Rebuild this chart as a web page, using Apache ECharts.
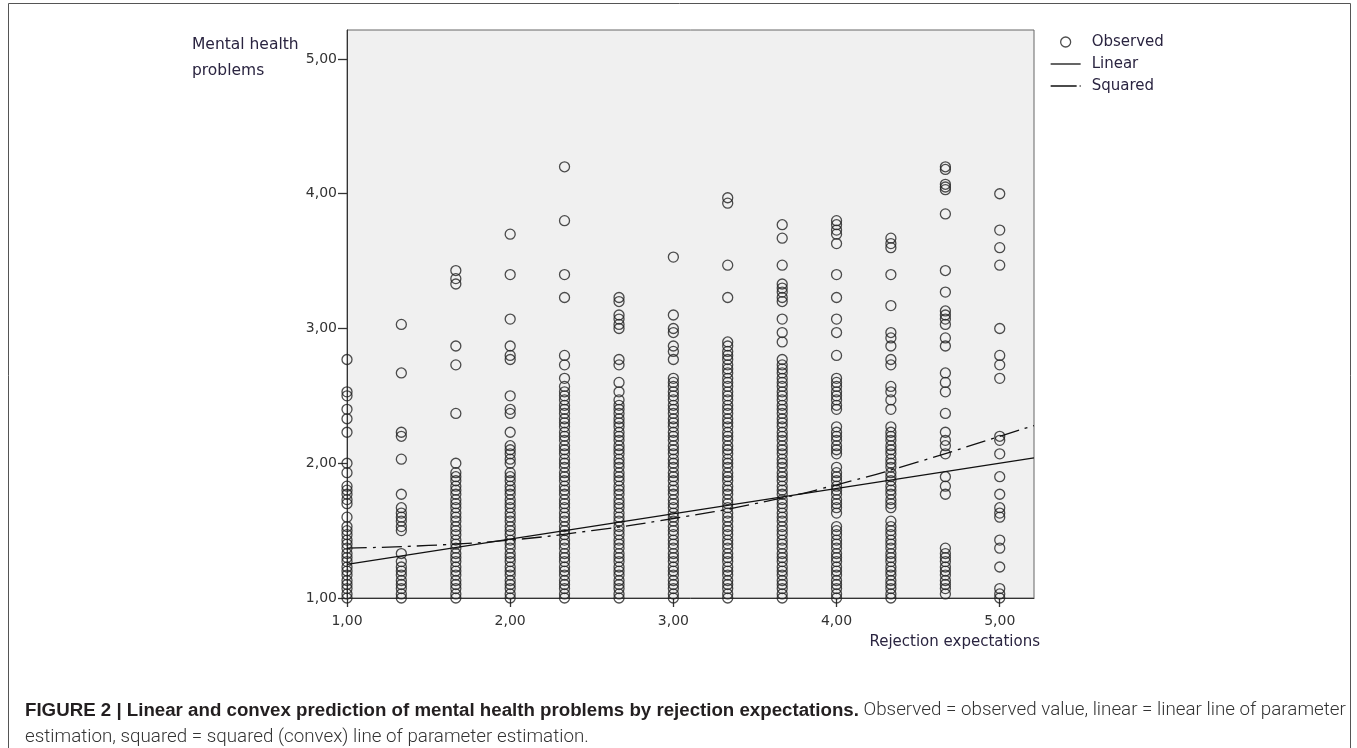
<!DOCTYPE html>
<html>
<head>
<meta charset="utf-8">
<script src="https://cdn.jsdelivr.net/npm/echarts@6/dist/echarts.min.js"></script>
<style>
html,body{margin:0;padding:0;background:#fff;}
#chart{width:1357px;height:748px;}
</style>
</head>
<body>
<div id="chart"></div>
<script>
// Column positions (Rejection expectations)
const xColumns = [1.00, 1.333, 1.667, 2.00, 2.333, 2.667, 3.00, 3.333, 3.667, 4.00, 4.333, 4.667, 5.00];
// Tick labels
const xTicks = [1, 2, 3, 4, 5];
const yTicks = [1, 2, 3, 4, 5];

// Observed values per column (Mental health problems)
const obs100 = [2.77, 2.53, 2.50, 2.40, 2.33, 2.23, 2.00, 1.93, 1.83, 1.80, 1.77, 1.73, 1.70, 1.60, 1.53, 1.50, 1.47, 1.43, 1.40, 1.37, 1.33, 1.30, 1.27, 1.23, 1.20, 1.17, 1.13, 1.10, 1.07, 1.03, 1.00];
const obs133 = [3.03, 2.67, 2.23, 2.20, 2.03, 1.77, 1.67, 1.63, 1.60, 1.57, 1.53, 1.50, 1.33, 1.27, 1.23, 1.20, 1.17, 1.13, 1.10, 1.07, 1.03, 1.00];
const obs167 = [3.43, 3.37, 3.33, 2.87, 2.73, 2.37, 2.00, 1.93, 1.90, 1.87, 1.83, 1.80, 1.77, 1.73, 1.70, 1.67, 1.63, 1.60, 1.57, 1.53, 1.50, 1.47, 1.43, 1.40, 1.37, 1.33, 1.30, 1.27, 1.23, 1.20, 1.17, 1.13, 1.10, 1.07, 1.03, 1.00];
const obs200 = [3.70, 3.40, 3.07, 2.87, 2.80, 2.77, 2.50, 2.40, 2.37, 2.23, 2.13, 2.10, 2.07, 2.03, 2.00, 1.93, 1.90, 1.87, 1.83, 1.80, 1.77, 1.73, 1.70, 1.67, 1.63, 1.60, 1.57, 1.53, 1.50, 1.47, 1.43, 1.40, 1.37, 1.33, 1.30, 1.27, 1.23, 1.20, 1.17, 1.13, 1.10, 1.07, 1.03, 1.00];
const obs233 = [4.20, 3.80, 3.40, 3.23, 2.80, 2.73, 2.63, 2.57, 2.53, 2.50, 2.47, 2.43, 2.40, 2.37, 2.33, 2.30, 2.27, 2.23, 2.20, 2.17, 2.13, 2.10, 2.07, 2.03, 2.00, 1.97, 1.93, 1.90, 1.87, 1.83, 1.80, 1.77, 1.73, 1.70, 1.67, 1.63, 1.60, 1.57, 1.53, 1.50, 1.47, 1.43, 1.40, 1.37, 1.33, 1.30, 1.27, 1.23, 1.20, 1.17, 1.13, 1.10, 1.07, 1.03, 1.00];
const obs267 = [3.23, 3.20, 3.10, 3.07, 3.03, 3.00, 2.77, 2.73, 2.60, 2.53, 2.47, 2.43, 2.40, 2.37, 2.33, 2.30, 2.27, 2.23, 2.20, 2.17, 2.13, 2.10, 2.07, 2.03, 2.00, 1.97, 1.93, 1.90, 1.87, 1.83, 1.80, 1.77, 1.73, 1.70, 1.67, 1.63, 1.60, 1.57, 1.53, 1.50, 1.47, 1.43, 1.40, 1.37, 1.33, 1.30, 1.27, 1.23, 1.20, 1.17, 1.13, 1.10, 1.07, 1.03, 1.00];
const obs300 = [3.53, 3.10, 3.00, 2.97, 2.87, 2.83, 2.77, 2.63, 2.60, 2.57, 2.53, 2.50, 2.47, 2.43, 2.40, 2.37, 2.33, 2.30, 2.27, 2.23, 2.20, 2.17, 2.13, 2.10, 2.07, 2.03, 2.00, 1.97, 1.93, 1.90, 1.87, 1.83, 1.80, 1.77, 1.73, 1.70, 1.67, 1.63, 1.60, 1.57, 1.53, 1.50, 1.47, 1.43, 1.40, 1.37, 1.33, 1.30, 1.27, 1.23, 1.20, 1.17, 1.13, 1.10, 1.07, 1.03, 1.00];
const obs333 = [3.97, 3.93, 3.47, 3.23, 2.90, 2.87, 2.83, 2.80, 2.77, 2.73, 2.70, 2.67, 2.63, 2.60, 2.57, 2.53, 2.50, 2.47, 2.43, 2.40, 2.37, 2.33, 2.30, 2.27, 2.23, 2.20, 2.17, 2.13, 2.10, 2.07, 2.03, 2.00, 1.97, 1.93, 1.90, 1.87, 1.83, 1.80, 1.77, 1.73, 1.70, 1.67, 1.63, 1.60, 1.57, 1.53, 1.50, 1.47, 1.43, 1.40, 1.37, 1.33, 1.30, 1.27, 1.23, 1.20, 1.17, 1.13, 1.10, 1.07, 1.03, 1.00];
const obs367 = [3.77, 3.67, 3.47, 3.33, 3.30, 3.27, 3.23, 3.20, 3.07, 2.97, 2.90, 2.77, 2.73, 2.70, 2.67, 2.63, 2.60, 2.57, 2.53, 2.50, 2.47, 2.43, 2.40, 2.37, 2.33, 2.30, 2.27, 2.23, 2.20, 2.17, 2.13, 2.10, 2.07, 2.03, 2.00, 1.97, 1.93, 1.90, 1.87, 1.83, 1.80, 1.77, 1.73, 1.70, 1.67, 1.63, 1.60, 1.57, 1.53, 1.50, 1.47, 1.43, 1.40, 1.37, 1.33, 1.30, 1.27, 1.23, 1.20, 1.17, 1.13, 1.10, 1.07, 1.03, 1.00];
const obs400 = [3.80, 3.77, 3.73, 3.70, 3.63, 3.40, 3.23, 3.07, 2.97, 2.80, 2.63, 2.60, 2.57, 2.53, 2.50, 2.47, 2.43, 2.40, 2.27, 2.23, 2.20, 2.17, 2.13, 2.10, 2.07, 1.97, 1.93, 1.90, 1.87, 1.83, 1.80, 1.77, 1.73, 1.70, 1.67, 1.63, 1.53, 1.50, 1.47, 1.43, 1.40, 1.37, 1.33, 1.30, 1.27, 1.23, 1.20, 1.17, 1.13, 1.10, 1.07, 1.03, 1.00];
const obs433 = [3.67, 3.63, 3.60, 3.40, 3.17, 2.97, 2.93, 2.87, 2.77, 2.73, 2.57, 2.53, 2.47, 2.40, 2.27, 2.23, 2.20, 2.17, 2.13, 2.10, 2.07, 2.03, 2.00, 1.97, 1.93, 1.90, 1.87, 1.83, 1.80, 1.77, 1.73, 1.70, 1.67, 1.57, 1.53, 1.50, 1.47, 1.43, 1.40, 1.37, 1.33, 1.30, 1.27, 1.23, 1.20, 1.17, 1.13, 1.10, 1.07, 1.03, 1.00];
const obs467 = [4.20, 4.18, 4.07, 4.05, 4.03, 3.85, 3.43, 3.27, 3.13, 3.10, 3.07, 3.03, 2.93, 2.87, 2.67, 2.60, 2.53, 2.37, 2.23, 2.17, 2.13, 2.07, 1.90, 1.83, 1.77, 1.37, 1.33, 1.30, 1.27, 1.23, 1.20, 1.17, 1.13, 1.10, 1.07, 1.03];
const obs500 = [4.00, 3.73, 3.60, 3.47, 3.00, 2.80, 2.73, 2.63, 2.20, 2.17, 2.07, 1.90, 1.77, 1.67, 1.63, 1.60, 1.43, 1.37, 1.23, 1.07, 1.03, 1.00];

// Fitted lines
const linearX = [1.00, 5.21];
const linearY = [1.25, 2.04];
const squaredX = [1.00, 1.50, 2.00, 2.50, 3.00, 3.50, 4.00, 4.50, 5.00, 5.21];
const squaredY = [1.37, 1.39, 1.43, 1.50, 1.59, 1.70, 1.84, 2.01, 2.20, 2.28];

const observedColumns = [obs100, obs133, obs167, obs200, obs233, obs267, obs300, obs333, obs367, obs400, obs433, obs467, obs500];
const scatterData = [];
observedColumns.forEach((col, i) => col.forEach(v => scatterData.push([xColumns[i], v])));

const FONT = 'DejaVu Sans';
const fmt = v => Number(v).toFixed(2).replace('.', ',');

const chart = echarts.init(document.getElementById('chart'), null, {renderer: 'canvas'});
chart.setOption({
  backgroundColor: '#ffffff',
  animation: false,
  title: [
    {
      text: 'Mental health\nproblems',
      left: 187, top: 27,
      textStyle: {fontFamily: FONT, fontSize: 15.5, fontWeight: 'normal', color: '#2a2440', lineHeight: 26}
    },
    {
      text: '{b|FIGURE 2 | Linear and convex prediction of mental health problems by rejection expectations.}{n| Observed = observed value, linear = linear line of parameter}\n{n|estimation, squared = squared (convex) line of parameter estimation.}',
      left: 20, top: 692,
      textStyle: {
        rich: {
          b: {fontFamily: 'Liberation Sans', fontSize: 18.7, fontWeight: 'bold', color: '#231f20', lineHeight: 27},
          n: {fontFamily: 'Roboto', fontSize: 18.8, fontWeight: 300, color: '#333', lineHeight: 27}
        }
      }
    }
  ],
  legend: {
    orient: 'vertical',
    left: 1045, top: 29,
    itemWidth: 30, itemHeight: 10, itemGap: 6,
    textStyle: {fontFamily: FONT, fontSize: 15, color: '#2a2440', lineHeight: 16, padding: [0, 0, 0, 6]},
    data: [
      {name: 'Observed', icon: 'circle', itemStyle: {color: 'rgba(0,0,0,0)', borderColor: '#222', borderWidth: 1.3}},
      {name: 'Linear', itemStyle: {opacity: 0}, lineStyle: {color: '#111', width: 1.3, type: 'solid'}},
      {name: 'Squared', itemStyle: {opacity: 0}, lineStyle: {color: '#111', width: 1.3, type: [26, 3, 1, 3]}}
    ]
  },
  grid: {
    left: 347, top: 30, width: 687, height: 568,
    show: true, backgroundColor: '#f0f0f0', borderColor: '#666', borderWidth: 1,
    containLabel: false
  },
  xAxis: {
    type: 'value', min: 1, max: 5.21,
    name: 'Rejection expectations', nameLocation: 'end', nameGap: 6,
    nameTextStyle: {fontFamily: FONT, fontSize: 15, color: '#2a2440', align: 'right', verticalAlign: 'top', padding: [37, 0, 0, 0]},
    splitLine: {show: false},
    axisLine: {show: true, onZero: false, lineStyle: {color: '#333', width: 1}},
    axisTick: {show: true, length: 9, customValues: xTicks, lineStyle: {color: '#333', width: 1.3}},
    axisLabel: {customValues: xTicks, formatter: fmt, fontFamily: FONT, fontSize: 14, color: '#333', margin: 16}
  },
  yAxis: {
    type: 'value', min: 1, max: 5.215,
    splitLine: {show: false},
    axisLine: {show: true, onZero: false, lineStyle: {color: '#333', width: 1}},
    axisTick: {show: true, length: 9, customValues: yTicks, lineStyle: {color: '#333', width: 1.3}},
    axisLabel: {customValues: yTicks, formatter: fmt, fontFamily: FONT, fontSize: 14, color: '#333', margin: 10}
  },
  series: [
    {
      name: 'Observed', type: 'scatter', data: scatterData, clip: false,
      symbol: 'circle', symbolSize: 10,
      itemStyle: {color: 'rgba(0,0,0,0)', borderColor: '#222', borderWidth: 1.3},
      emphasis: {disabled: true}, z: 2
    },
    {
      name: 'Linear', type: 'line', data: linearX.map((x, i) => [x, linearY[i]]),
      symbol: 'none', clip: false,
      itemStyle: {color: '#111'},
      lineStyle: {color: '#111', width: 1.3, type: 'solid'}, z: 3
    },
    {
      name: 'Squared', type: 'line', data: squaredX.map((x, i) => [x, squaredY[i]]),
      symbol: 'none', smooth: true, clip: false,
      itemStyle: {color: '#111'},
      lineStyle: {color: '#111', width: 1.3, type: [20, 6, 3, 6]}, z: 3
    }
  ],
  graphic: [
    {type: 'polyline', shape: {points: [[8.5, 748], [8.5, 3.5], [1350.5, 3.5], [1350.5, 748]]}, style: {fill: null, stroke: '#555', lineWidth: 1}, silent: true, z: -1}
  ]
});
</script>
</body>
</html>
